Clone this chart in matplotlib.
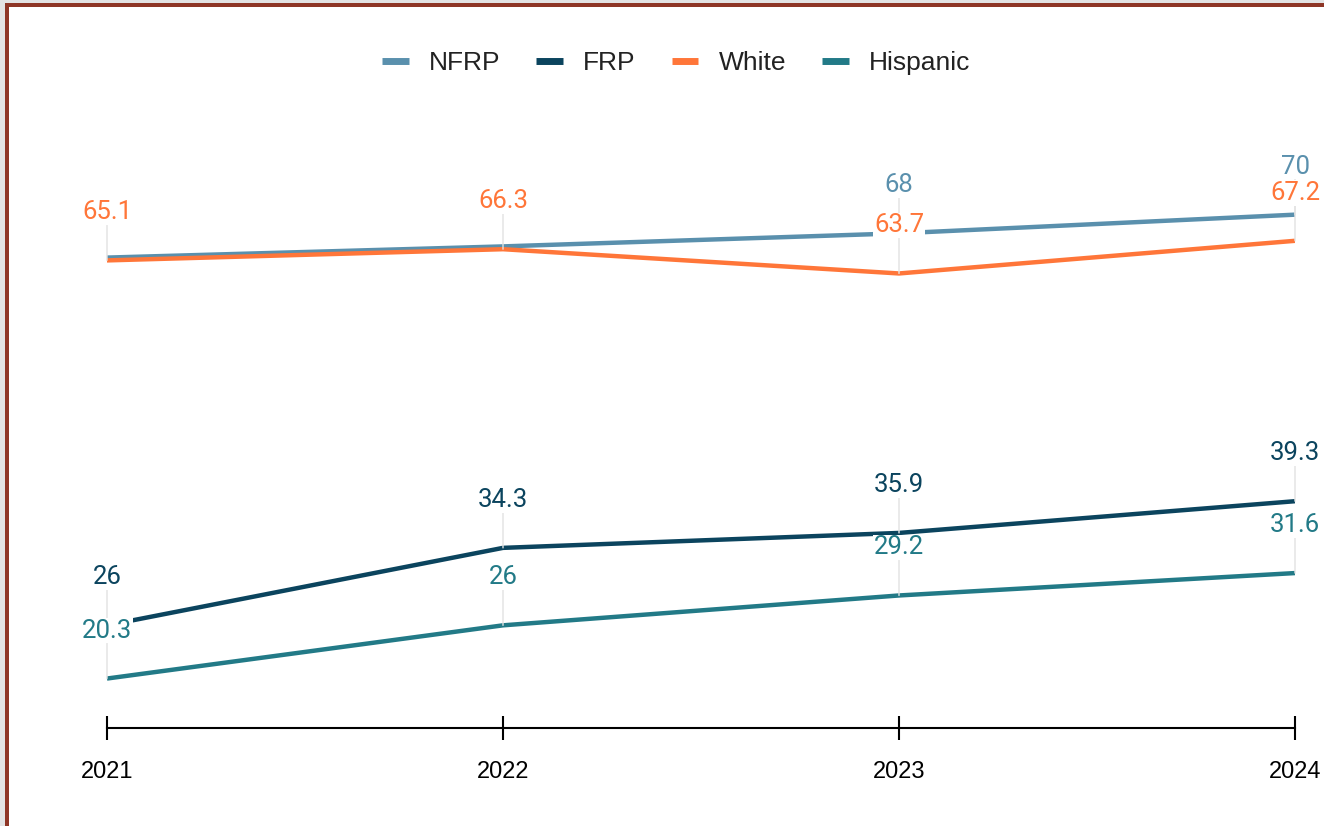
import matplotlib.pyplot as plt
from matplotlib.patches import Rectangle
from matplotlib.lines import Line2D

# data
years = [2021, 2022, 2023, 2024]
nfrp = [65.4, 66.6, 68, 70]
frp = [26, 34.3, 35.9, 39.3]
white = [65.1, 66.3, 63.7, 67.2]
hispanic = [20.3, 26, 29.2, 31.6]

series = [
    ("NFRP", nfrp, "#5a90ad"),
    ("FRP", frp, "#0b445e"),
    ("White", white, "#ff7639"),
    ("Hispanic", hispanic, "#227a87"),
]
# labels hidden under other labels in the original
hidden = {("NFRP", 2021), ("NFRP", 2022)}

W, H = 1324, 826
fig = plt.figure(figsize=(W / 100, H / 100), dpi=100)

# axes placement (pixels -> fraction)
x0, x1 = 107, 1295
y_bot, y_top = 728, 196
ax = fig.add_axes([x0 / W, (H - y_bot) / H, (x1 - x0) / W, (y_bot - y_top) / H])
ax.set_xlim(2021, 2024)
ax.set_ylim(15, 72)

for name, vals, col in series:
    ax.plot(years, vals, color=col, lw=3.2, solid_capstyle='butt', zorder=2, label=name)

# data labels with leader lines
for name, vals, col in series:
    for x, y in zip(years, vals):
        if (name, x) in hidden:
            continue
        ax.annotate(f"{y:g}", xy=(x, y), xytext=(0, 48), textcoords='offset pixels',
                    ha='center', va='center', fontsize=18.5, color=col,
                    family=['Roboto', 'DejaVu Sans'], zorder=4,
                    bbox=dict(fc='white', ec='none', pad=0.5),
                    arrowprops=dict(arrowstyle='-', color='#e2e2e2', lw=1,
                                    shrinkA=0, shrinkB=0),
                    annotation_clip=False)

for s in ['top', 'right', 'left']:
    ax.spines[s].set_visible(False)
ax.spines['bottom'].set_linewidth(1.5)
ax.spines['bottom'].set_color('black')
ax.set_yticks([])
ax.set_xticks(years)
ax.set_xticklabels([str(y) for y in years], fontsize=17, family='Liberation Sans')
ax.tick_params(axis='x', direction='inout', length=17, width=1.5, pad=15, colors='black')

handles = [Line2D([0], [0], color=c, lw=5, solid_capstyle='butt') for _, _, c in series]
leg = fig.legend(handles, [n for n, _, _ in series], loc='center', bbox_to_anchor=(676 / W, 1 - 63 / H),
                 ncol=4, frameon=False, handlelength=1.02, handletextpad=0.76, columnspacing=1.36,
                 prop={'family': 'Liberation Sans', 'size': 19})
for t in leg.get_texts():
    t.set_color('#222222')

# frame around the figure
fig.patches.append(Rectangle((0, 0), 5 / W, 1, transform=fig.transFigure, fc='#e3e3e3', ec='none'))
fig.patches.append(Rectangle((0, 1 - 3 / H), 1, 3 / H, transform=fig.transFigure, fc='#e3e3e3', ec='none'))
fig.patches.append(Rectangle((5 / W, 0), 4 / W, 1 - 3 / H, transform=fig.transFigure, fc='#8e3626', ec='none'))
fig.patches.append(Rectangle((5 / W, 1 - 7 / H), 1, 4 / H, transform=fig.transFigure, fc='#8e3626', ec='none'))

fig.savefig('out.png', dpi=100)
